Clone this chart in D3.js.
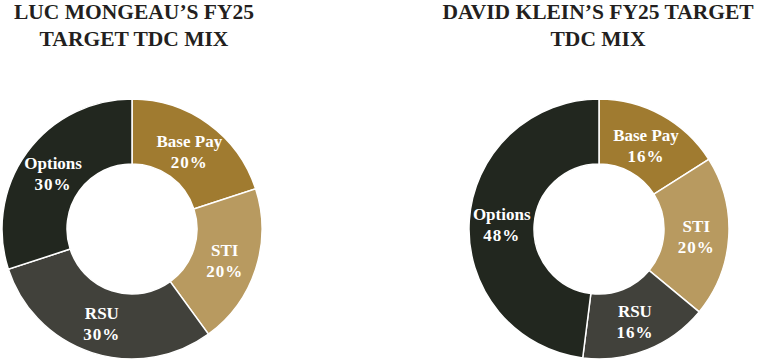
<!DOCTYPE html>
<html>
<head>
<meta charset="utf-8">
<script src="https://cdn.jsdelivr.net/npm/d3@7"></script>
<style>
  html, body { margin: 0; padding: 0; background: #fff; }
  svg { display: block; }
  .title { font-family: "Liberation Serif", "Times New Roman", serif; font-weight: bold; font-size: 21.5px; fill: #231f20; }
  .slice-label { font-family: "Liberation Serif", "Times New Roman", serif; font-weight: bold; font-size: 17px; fill: #fff; }
</style>
</head>
<body>
<div id="chart"></div>
<script>
// categories, clockwise from 12 o'clock
const categories = ['Base Pay', 'STI', 'RSU', 'Options'];
const colors = ['#a07b30', '#b89a60', '#41413b', '#22271f'];

const mongeauValues = [20, 20, 30, 30];
const kleinValues = [16, 20, 16, 48];

const titles = [
  ['LUC MONGEAU\u2019S FY25', 'TARGET TDC MIX'],
  ['DAVID KLEIN\u2019S FY25 TARGET', 'TDC MIX']
];

const width = 761;
const height = 363;

const svg = d3.select('#chart').append('svg')
  .attr('width', width)
  .attr('height', height);

const color = d3.scaleOrdinal().domain(categories).range(colors);

const outerR = 130;
const innerR = 65;

const arc = d3.arc().innerRadius(innerR).outerRadius(outerR);
const labelArc = d3.arc().innerRadius(innerR).outerRadius(outerR);

const pie = d3.pie()
  .sort(null)
  .value(function(d) { return d.value; });

function drawDonut(values, title, cx, cy, tx) {
  const data = categories.map(function(c, i) { return {name: c, value: values[i]}; });

  // title (two lines)
  const t = svg.append('text')
    .classed('title', true)
    .attr('text-anchor', 'middle');
  title.forEach(function(line, i) {
    t.append('tspan')
      .attr('x', tx)
      .attr('y', 19 + i * 27)
      .text(line);
  });

  const g = svg.append('g').attr('transform', 'translate(' + cx + ',' + cy + ')');

  g.selectAll('path')
    .data(pie(data))
    .enter()
    .append('path')
    .attr('d', arc)
    .style('fill', function(d) { return color(d.data.name); })
    .style('stroke', '#fff')
    .style('stroke-width', 1.5);

  const labels = g.selectAll('text')
    .data(pie(data))
    .enter()
    .append('text')
    .classed('slice-label', true)
    .attr('text-anchor', 'middle')
    .attr('transform', function(d) {
      const c = labelArc.centroid(d);
      return 'translate(' + c[0] + ',' + c[1] + ')';
    });

  labels.append('tspan')
    .attr('x', 0)
    .attr('y', -3)
    .text(function(d) { return d.data.name; });

  labels.append('tspan')
    .attr('x', 0)
    .attr('y', 18)
    .style('letter-spacing', '1px')
    .text(function(d) { return d.data.value + '%'; });
}

drawDonut(mongeauValues, titles[0], 132, 229, 134);
drawDonut(kleinValues, titles[1], 599, 229, 598);
</script>
</body>
</html>
